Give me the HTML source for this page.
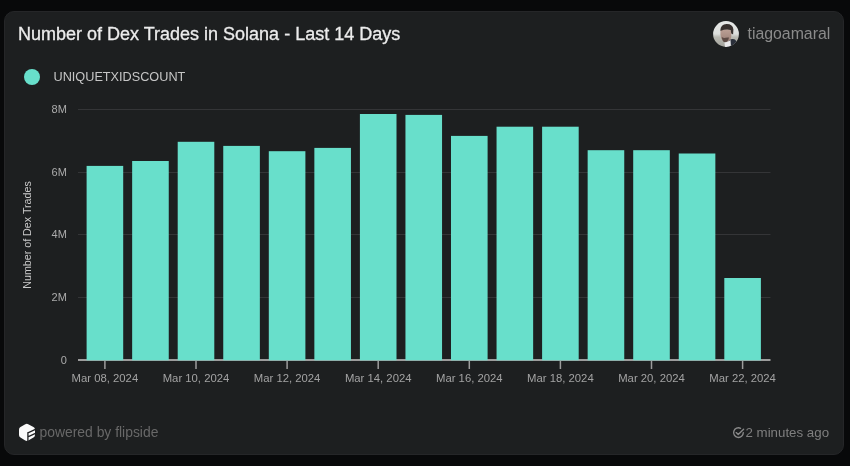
<!DOCTYPE html>
<html><head><meta charset="utf-8"><style>
html,body{margin:0;padding:0;width:850px;height:466px;background:#08090a;overflow:hidden;font-family:"Liberation Sans",sans-serif}
.card{position:absolute;left:4px;top:11px;width:838px;height:442px;background:#1d1f20;border:1px solid #252628;border-radius:10px}
.t{position:absolute;white-space:nowrap;line-height:1}
</style></head><body>
<div id="w" style="position:absolute;left:0;top:0;width:850px;height:466px;will-change:transform"><div class="card"></div>
<div class="t" style="left:18px;top:25px;font-size:18px;color:#ececec;-webkit-text-stroke:0.3px #ececec">Number of Dex Trades in Solana - Last 14 Days</div>
<svg style="position:absolute;left:712.9px;top:20.7px" width="26" height="26" viewBox="0 0 26 26">
 <defs><clipPath id="av"><circle cx="13" cy="13" r="12.9"/></clipPath>
 <linearGradient id="avbg" x1="0" y1="0" x2="0" y2="1"><stop offset="0" stop-color="#e6e8e7"/><stop offset="0.5" stop-color="#dcdedc"/><stop offset="0.62" stop-color="#b9b9b2"/><stop offset="1" stop-color="#a3a39c"/></linearGradient>
 <linearGradient id="skin" x1="0" y1="0" x2="0" y2="1"><stop offset="0" stop-color="#bca095"/><stop offset="1" stop-color="#9a8077"/></linearGradient></defs>
 <g clip-path="url(#av)">
  <rect width="26" height="26" fill="url(#avbg)"/>
  <path d="M16 19 Q19.5 17.5 22 18.5 Q25 21 26 26 L14 26 Q15 22 16 19 Z" fill="#2a2f3a"/>
  <path d="M11.5 21.8 Q14.5 21 17.5 19 L18 26 L12 26 Z" fill="#e9e9eb"/>
  <path d="M7.4 9.2 Q12 7.8 17.4 8.6 L18.5 12.5 Q18.5 16.2 17.4 18.6 Q15.3 21 12.6 21 Q9.6 20.7 8.3 17.6 Q7.1 14 7.4 9.2 Z" fill="url(#skin)"/>
  <path d="M8.8 16 Q10.5 17.2 12.5 16.8 Q14.5 16.4 16 16.6 Q15.6 19.6 13.8 20.8 Q11.5 21.5 10 20.2 Q9 18.5 8.8 16 Z" fill="#5e4b45"/>
  <path d="M7.3 9.5 Q7.6 3.6 13.6 3.1 Q19.8 3 20.4 8.6 L20.1 13.5 L18.3 12.6 L17.6 9 Q13 7.8 7.8 9.8 Z" fill="#37302e"/>
 </g>
</svg>
<div class="t" style="left:747.5px;top:25.5px;font-size:15.85px;color:#8b8b8b">tiagoamaral</div>
<div style="position:absolute;left:24px;top:68.5px;width:16.3px;height:16.3px;border-radius:50%;background:#68dfcb"></div>
<div class="t" style="left:53.5px;top:70.6px;font-size:12.7px;color:#c6c6c6">UNIQUETXIDSCOUNT</div>
<svg style="position:absolute;left:0;top:0" width="850" height="466">
 <g fill="#343537">
  <rect x="78" y="109" width="692.5" height="1"/>
  <rect x="78" y="172" width="692.5" height="1"/>
  <rect x="78" y="234" width="692.5" height="1"/>
  <rect x="78" y="297" width="692.5" height="1"/>
 </g>
 <rect x="78" y="359" width="692.5" height="2" fill="#9c9c9c"/>
 <g fill="#9c9c9c"><rect x="104.15" y="361" width="1.5" height="8"/><rect x="195.25" y="361" width="1.5" height="8"/><rect x="286.35" y="361" width="1.5" height="8"/><rect x="377.45" y="361" width="1.5" height="8"/><rect x="468.55" y="361" width="1.5" height="8"/><rect x="559.65" y="361" width="1.5" height="8"/><rect x="650.75" y="361" width="1.5" height="8"/><rect x="741.85" y="361" width="1.5" height="8"/></g>
 <g fill="#68dfcb"><rect x="86.60" y="165.9" width="36.6" height="194.40"/><rect x="132.15" y="161" width="36.6" height="199.30"/><rect x="177.70" y="141.8" width="36.6" height="218.50"/><rect x="223.25" y="145.9" width="36.6" height="214.40"/><rect x="268.80" y="151.2" width="36.6" height="209.10"/><rect x="314.35" y="147.9" width="36.6" height="212.40"/><rect x="359.90" y="114" width="36.6" height="246.30"/><rect x="405.45" y="114.9" width="36.6" height="245.40"/><rect x="451.00" y="135.9" width="36.6" height="224.40"/><rect x="496.55" y="126.7" width="36.6" height="233.60"/><rect x="542.10" y="126.7" width="36.6" height="233.60"/><rect x="587.65" y="150.2" width="36.6" height="210.10"/><rect x="633.20" y="150.2" width="36.6" height="210.10"/><rect x="678.75" y="153.5" width="36.6" height="206.80"/><rect x="724.30" y="278" width="36.6" height="82.30"/></g>
 <g font-family="Liberation Sans" font-size="11" fill="#ababab" text-anchor="end">
  <text x="66.8" y="113">8M</text>
  <text x="66.8" y="175.7">6M</text>
  <text x="66.8" y="238.4">4M</text>
  <text x="66.8" y="301.1">2M</text>
  <text x="66.8" y="363.8">0</text>
 </g>
 <g font-family="Liberation Sans" font-size="11.3" fill="#a3a3a3" text-anchor="middle"><text x="104.90" y="382">Mar 08, 2024</text><text x="196.00" y="382">Mar 10, 2024</text><text x="287.10" y="382">Mar 12, 2024</text><text x="378.20" y="382">Mar 14, 2024</text><text x="469.30" y="382">Mar 16, 2024</text><text x="560.40" y="382">Mar 18, 2024</text><text x="651.50" y="382">Mar 20, 2024</text><text x="742.60" y="382">Mar 22, 2024</text></g>
 <text transform="translate(31.2,235) rotate(-90)" font-family="Liberation Sans" font-size="10.7" fill="#c9c9c9" text-anchor="middle">Number of Dex Trades</text>
</svg>
<svg style="position:absolute;left:18px;top:423px" width="19" height="20" viewBox="0 0 19 20">
 <path d="M8.8 3.9 L14 6.7 L14 12 L8.8 14.9 L4 12 L4 6.7 Z" fill="#fafafa" stroke="#fafafa" stroke-width="6" stroke-linejoin="round"/>
 <path d="M9.9 9.9 L18.5 5.9 M9.9 13.9 L18.5 9.9 M9.9 9.7 L9.9 19.5" stroke="#1e1f21" stroke-width="1.3" fill="none" stroke-linecap="round"/>
</svg>
<div class="t" style="left:39.5px;top:426px;font-size:13.9px;color:#686868">powered by flipside</div>
<svg style="position:absolute;left:731px;top:426px" width="14" height="14" viewBox="0 0 14 14">
 <path d="M12.3 6.6 A4.85 4.85 0 1 1 9.6 2.3" stroke="#8a8a8a" stroke-width="1.35" fill="none" stroke-linecap="round"/>
 <path d="M5.2 6.6 L7.2 8.6 L12.6 3.2" stroke="#8a8a8a" stroke-width="1.35" fill="none" stroke-linecap="round" stroke-linejoin="round"/>
</svg>
<div class="t" style="left:745.5px;top:426px;font-size:13.3px;color:#7f7f7f">2 minutes ago</div>
</div></body></html>
